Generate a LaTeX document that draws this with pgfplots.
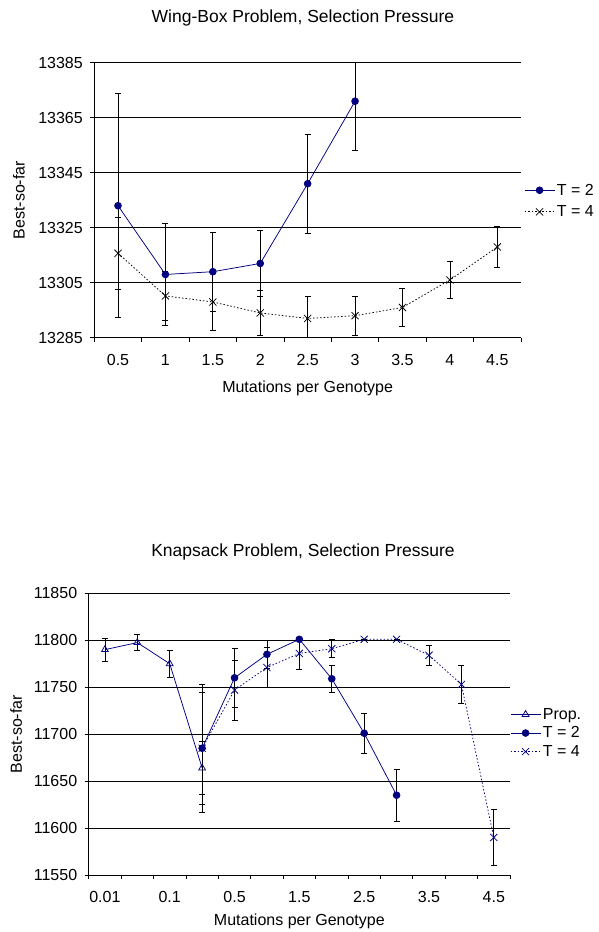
\documentclass[border=0pt]{standalone}
\usepackage{fontspec}
\setmainfont{Liberation Sans}
\usepackage{pgfplots}
\pgfplotsset{compat=1.18}
\definecolor{navy}{RGB}{0,0,128}
\pgfplotsset{
  myaxis/.style={
    scale only axis,
    axis x line*=bottom, axis y line*=left,
    axis line style={-, black, line width=0.75pt},
    ymajorgrids, major grid style={black, line width=0.75pt},
    tick align=outside,
    major tick length=4pt, minor tick length=4pt,
    tick style={black, line width=0.75pt},
    major x tick style={draw=none},
    /pgf/number format/assume math mode=true,
    /pgf/number format/set thousands separator={},
    scaled y ticks=false,
    tick label style={font=\fontsize{16}{19}\selectfont},
    xticklabel style={yshift=-9pt},
    yticklabel style={xshift=-4pt},
    label style={font=\fontsize{16}{19}\selectfont},
    title style={font=\fontsize{17.5}{21}\selectfont},
    legend style={font=\fontsize{16}{19}\selectfont, draw=none, fill=none, inner sep=0pt},
    legend cell align=left,
    legend image code/.code={\draw[mark repeat=2,mark phase=2] plot coordinates {(0pt,0pt) (15pt,0pt) (30pt,0pt)};},
  },
  eb/.style={error bars/.cd, y dir=both, y explicit,
    error mark=-,
    error bar style={black, line width=0.75pt, solid},
    error mark options={rotate=90, black, mark size=3pt, line width=0.75pt, solid}},
}
\begin{document}
\begin{tikzpicture}
\useasboundingbox (0,0) rectangle (598pt,-932pt);
% ---------------- Top chart ----------------
\begin{axis}[myaxis,
  at={(94.3pt,-337.7pt)}, anchor=south west,
  width=426.7pt, height=275pt,
  xmin=0.5, xmax=9.5, ymin=13285, ymax=13385,
  ytick={13285,13305,13325,13345,13365,13385},
  xtick={1,...,9},
  xticklabels={0.5,1,1.5,2,2.5,3,3.5,4,4.5},
  minor xtick={0.5,1.5,...,9.5},
  title={Wing-Box Problem, Selection Pressure},
  title style={at={(axis description cs:0.489,1)}, anchor=center, yshift=38.7pt},
  xlabel={Mutations per Genotype},
  xlabel style={at={(axis description cs:0.5,0)}, anchor=center, yshift=-51pt},
  ylabel={Best-so-far},
  ylabel style={at={(axis description cs:-0.1769,0.5)}, anchor=center},
  legend style={at={(axis description cs:1.007,0.497)}, anchor=west, row sep=5pt},
]
\addplot[navy, line width=0.75pt, mark=*, mark size=3.4pt, mark options={fill=navy, draw=navy}, eb]
  table[x=x, y=y, y error=e] {
x y e
1 13333 40.7
2 13308 18.5
3 13309 14.3
4 13312 12
5 13341 18
6 13371 18
};
\addlegendentry{T = 2}
\addplot[black, line width=0.75pt, dash pattern=on 1.5pt off 2pt, mark=x, mark size=5pt, mark options={solid, black}, eb]
  table[x=x, y=y, y error=e] {
x y e
1 13315.7 13
2 13300.2 9
3 13298 10.5
4 13294 8.3
5 13292 8
6 13293 7
7 13296 7
8 13306 6.6
9 13318 7.6
};
\addlegendentry{T = 4}
\end{axis}
% ---------------- Bottom chart ----------------
\begin{axis}[myaxis,
  at={(88.7pt,-875pt)}, anchor=south west,
  width=421.3pt, height=281.7pt,
  xmin=0.5, xmax=13.5, ymin=11550, ymax=11850,
  ytick={11550,11600,...,11850},
  xtick={1,...,13},
  xticklabels={0.01,{},0.1,{},0.5,{},1.5,{},2.5,{},3.5,{},4.5},
  minor xtick={0.5,1.5,...,13.5},
  title={Knapsack Problem, Selection Pressure},
  title style={at={(axis description cs:0.5087,1)}, anchor=center, yshift=35.5pt},
  xlabel={Mutations per Genotype},
  xlabel style={at={(axis description cs:0.5,0)}, anchor=center, yshift=-46pt},
  ylabel={Best-so-far},
  ylabel style={at={(axis description cs:-0.1719,0.5)}, anchor=center},
  legend style={at={(axis description cs:1.0,0.504)}, anchor=west, row sep=2pt},
]
\addplot[navy, line width=0.75pt, mark=triangle, mark size=3.9pt, mark options={fill=white, draw=navy}, eb]
  table[x=x, y=y, y error=e] {
x y e
1 11790 12.5
2 11797.5 8.5
3 11775 14.5
4 11664 28
};
\addlegendentry{Prop.}
\addplot[navy, line width=0.75pt, mark=*, mark size=3.4pt, mark options={fill=navy, draw=navy}, eb]
  table[x=x, y=y, y error=e] {
x y e
4 11685 68
5 11760 31.5
6 11785 15
7 11801 0
8 11759 14
9 11701 21.5
10 11635 28
};
\addlegendentry{T = 2}
\addplot[navy, line width=0.75pt, dash pattern=on 1.5pt off 2pt, mark=x, mark size=5pt, mark options={solid, navy}, eb]
  table[x=x, y=y, y error=e] {
x y e
4 11685 60
5 11747 32
6 11771 21
7 11786 17
8 11791 9.5
9 11801 0
10 11801 0
11 11784 11
12 11753 20.5
13 11590 30
};
\addlegendentry{T = 4}
\end{axis}
\end{tikzpicture}
\end{document}
